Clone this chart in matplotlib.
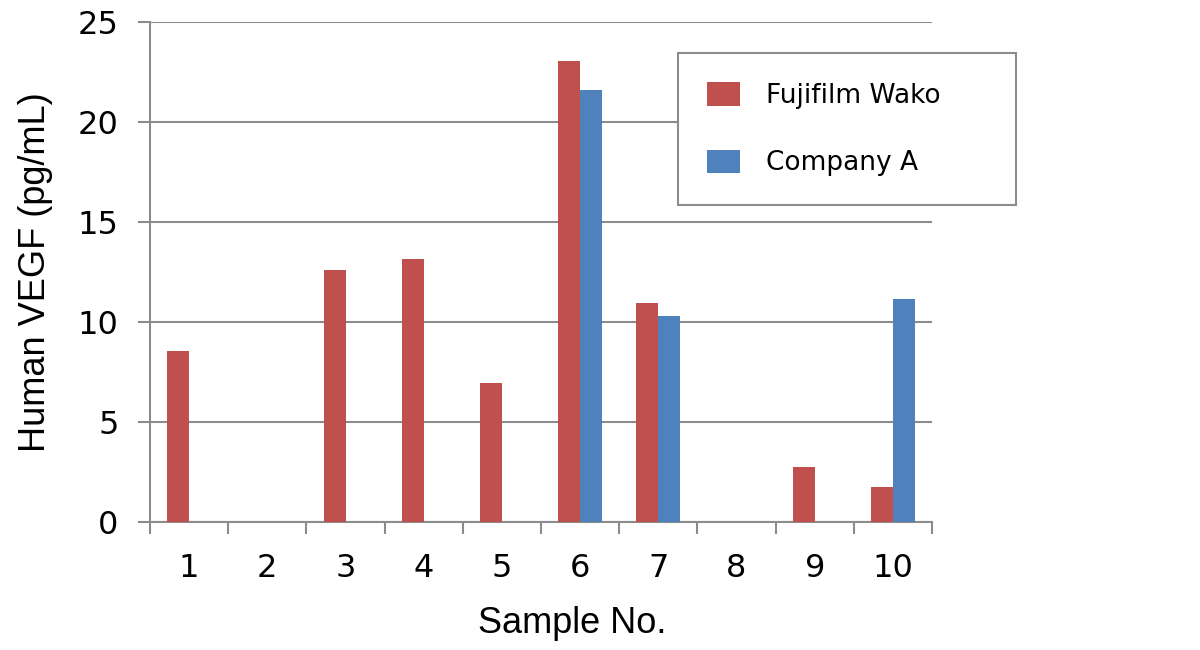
import matplotlib
matplotlib.use("Agg")
import matplotlib.pyplot as plt
import numpy as np
from matplotlib.ticker import FixedLocator

samples = ["1", "2", "3", "4", "5", "6", "7", "8", "9", "10"]
fujifilm = [8.55, 0, 12.6, 13.15, 6.95, 23.05, 10.95, 0, 2.75, 1.75]
company_a = [0, 0, 0, 0, 0, 21.6, 10.3, 0, 0, 11.15]
yticks = [0, 5, 10, 15, 20, 25]

RED = "#C0504D"
BLUE = "#4F81BD"
GRAY = "#8C8C8C"

fig = plt.figure(figsize=(12, 6.5), dpi=100)
ax = fig.add_axes([0.125, 0.197, 0.6517, 0.769])

x = np.arange(1, len(samples) + 1)
w = 0.28
ax.bar(x - w / 2, fujifilm, w, color=RED, label="Fujifilm Wako", zorder=3)
ax.bar(x + w / 2, company_a, w, color=BLUE, label="Company A", zorder=3)

ax.set_xlim(0.5, len(samples) + 0.5)
ax.set_ylim(0, 25)
ax.set_yticks(yticks)
ax.set_xticks(x)
ax.set_xticklabels(samples)
ax.xaxis.set_minor_locator(FixedLocator(np.arange(0.5, len(samples) + 1, 1)))

for s in ["top", "right"]:
    ax.spines[s].set_visible(False)
for s in ["left", "bottom"]:
    ax.spines[s].set_color(GRAY)
    ax.spines[s].set_linewidth(1.5)

ax.yaxis.grid(True, color=GRAY, linewidth=1.5, zorder=0)
ax.set_axisbelow(True)
ax.tick_params(axis="y", length=8.6, width=1.5, color=GRAY, pad=14,
               labelsize=23, direction="out")
ax.tick_params(axis="x", which="major", length=0, pad=22, labelsize=23)
ax.tick_params(axis="x", which="minor", length=8.6, width=1.5, color=GRAY,
               direction="out")
for lab in ax.get_xticklabels() + ax.get_yticklabels():
    lab.set_fontfamily("DejaVu Sans")

ax.set_ylabel("Human VEGF (pg/mL)", fontsize=26, family="Liberation Sans",
              labelpad=18)
ax.set_xlabel("Sample No.", fontsize=26, family="Liberation Sans")
ax.xaxis.set_label_coords(0.54, -0.168)

leg = ax.legend(loc="upper left", bbox_to_anchor=(0.565, 0.918, 0.282, 0.0),
                bbox_transform=fig.transFigure, mode="expand",
                prop={"family": "DejaVu Sans", "size": 19},
                handlelength=1.25, handleheight=1.0, handletextpad=1.0,
                labelspacing=1.53, borderpad=1.1, borderaxespad=0,
                fancybox=False, framealpha=1, edgecolor=GRAY)
leg.get_frame().set_linewidth(1.5)

fig.savefig("out.png", dpi=100, facecolor="white")
